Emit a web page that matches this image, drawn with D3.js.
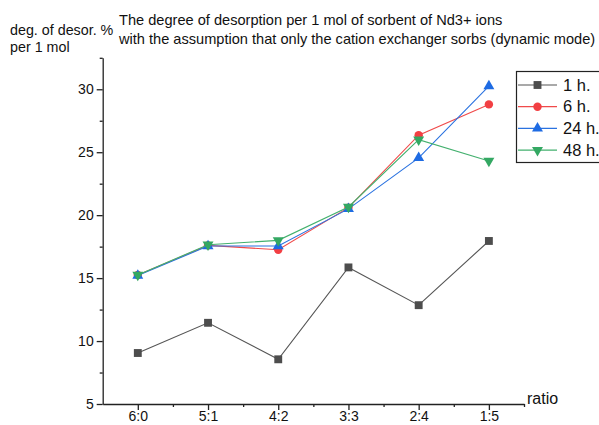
<!DOCTYPE html>
<html>
<head>
<meta charset="utf-8">
<script src="https://cdn.jsdelivr.net/npm/d3@7"></script>
<style>
  html, body { margin: 0; padding: 0; background: #fff; overflow: hidden; }
  text { font-family: "Liberation Sans", Arial, sans-serif; fill: #111; }
</style>
</head>
<body>
<div id="chart"></div>
<script>
// datos
const categories = ["6:0", "5:1", "4:2", "3:3", "2:4", "1:5"];
const h1 = [9.05, 11.45, 8.55, 15.85, 12.85, 17.95];
const h6 = [15.25, 17.6, 17.25, 20.6, 26.35, 28.8];
const h24 = [15.2, 17.55, 17.55, 20.5, 24.55, 30.25];
const h48 = [15.25, 17.65, 18.0, 20.65, 26.0, 24.3];
const seriesNames = ["1 h.", "6 h.", "24 h.", "48 h."];
const yTicks = [5, 10, 15, 20, 25, 30];

const width = 599, height = 425;

const series = [
    {name: seriesNames[0], values: h1, line: "#555555", fill: "#4d4d4d", symbol: d3.symbolSquare, size: 62, rot: 0},
    {name: seriesNames[1], values: h6, line: "#f04a4a", fill: "#f23f43", symbol: d3.symbolCircle, size: 56, rot: 0},
    {name: seriesNames[2], values: h24, line: "#2a72e0", fill: "#1e6be3", symbol: d3.symbolTriangle, size: 52, rot: 0},
    {name: seriesNames[3], values: h48, line: "#43b06e", fill: "#34a863", symbol: d3.symbolTriangle, size: 52, rot: 180}
];

const svg = d3.select('#chart')
    .append('svg')
    .attr("width", width)
    .attr("height", height);

let x = d3.scaleLinear().domain([-0.5, 5.5]).range([102.7, 524]);
let y = d3.scaleLinear().domain([5, 32.5]).range([404, 57.8]);

//Ejes
svg.append("g")
    .attr("transform", "translate(" + x(-0.5) + ",0)")
    .call(d3.axisLeft(y).tickValues(yTicks).tickSize(6).tickPadding(3).tickSizeOuter(0));

svg.append("g")
    .attr("transform", "translate(" + x(-0.5) + ",0)")
    .call(d3.axisLeft(y).tickValues(d3.range(7.5, 33, 5)).tickSize(3).tickFormat("").tickSizeOuter(0))
    .select(".domain").remove();

svg.append("g")
    .attr("transform", "translate(0," + y(5) + ")")
    .call(d3.axisBottom(x).tickValues(d3.range(0, 6)).tickSize(6).tickPadding(1)
        .tickFormat(i => categories[i]).tickSizeOuter(0));

svg.append("g")
    .attr("transform", "translate(0," + y(5) + ")")
    .call(d3.axisBottom(x).tickValues(d3.range(0.5, 6, 1)).tickSize(3).tickFormat("").tickSizeOuter(0))
    .select(".domain").remove();

svg.selectAll(".domain, .tick line")
    .attr("stroke", "#222")
    .attr("stroke-width", 1.3);

svg.selectAll(".tick text")
    .style("font-family", '"Liberation Sans", Arial, sans-serif')
    .style("font-size", "14px")
    .attr("fill", "#111");

//Líneas y marcadores
let line = d3.line()
    .x((d, i) => x(i))
    .y(d => y(d));

series.forEach(function(s) {
    svg.append("path")
        .datum(s.values)
        .attr("fill", "none")
        .attr("stroke", s.line)
        .attr("stroke-width", 1.1)
        .attr("d", line);

    svg.selectAll(null)
        .data(s.values)
        .enter()
        .append("path")
        .attr("d", d3.symbol().type(s.symbol).size(s.size))
        .attr("transform", (d, i) => "translate(" + x(i) + "," + y(d) + ") rotate(" + s.rot + ")")
        .attr("fill", s.fill);
});

//Leyenda
let legend = svg.append("g");
legend.append("rect")
    .attr("x", 516.5)
    .attr("y", 71.5)
    .attr("width", 120)
    .attr("height", 91)
    .attr("fill", "#fff")
    .attr("stroke", "#222")
    .attr("stroke-width", 1.2);

series.forEach(function(s, i) {
    let ly = 85 + i * 21.7;
    legend.append("line")
        .attr("x1", 518).attr("x2", 557)
        .attr("y1", ly).attr("y2", ly)
        .attr("stroke", s.line)
        .attr("stroke-width", 1.2);
    legend.append("path")
        .attr("d", d3.symbol().type(s.symbol).size(s.size))
        .attr("transform", "translate(537.5," + ly + ") rotate(" + s.rot + ")")
        .attr("fill", s.fill);
    legend.append("text")
        .attr("x", 563)
        .attr("y", ly + 5.5)
        .style("font-size", "16.5px")
        .text(s.name);
});

//Textos
svg.append("text")
    .attr("x", 527)
    .attr("y", 404)
    .style("font-size", "16px")
    .text("ratio");

svg.append("text")
    .attr("x", 10)
    .attr("y", 35)
    .style("font-size", "14.3px")
    .text("deg. of desor. %");
svg.append("text")
    .attr("x", 10)
    .attr("y", 52)
    .style("font-size", "14.3px")
    .text("per 1 mol");

svg.append("text")
    .attr("x", 119)
    .attr("y", 25)
    .style("font-size", "14.6px")
    .text("The degree of desorption per 1 mol of sorbent of Nd3+ ions");
svg.append("text")
    .attr("x", 119)
    .attr("y", 44)
    .style("font-size", "14.6px")
    .text("with the assumption that only the cation exchanger sorbs (dynamic mode)");
</script>
</body>
</html>
